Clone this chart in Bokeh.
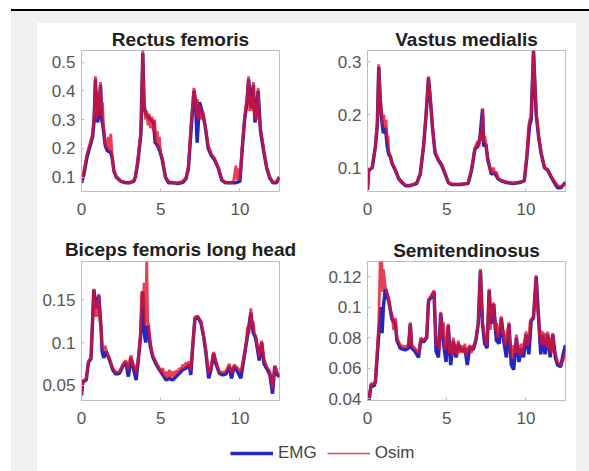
from bokeh.plotting import figure
from bokeh.models import FixedTicker, Legend, LegendItem, Spacer, Range1d
from bokeh.layouts import row, column
from bokeh.embed import file_html
from bokeh.resources import INLINE

# ---------------- data ----------------
TITLES = ["Rectus femoris", "Vastus medialis", "Biceps femoris long head", "Semitendinosus"]
X_TICKS = [0, 5, 10]
X_LIMITS = (0, 12.5)

# Rectus femoris
t_rf_emg = [0.0, 0.15, 0.35, 0.55, 0.7, 0.8, 0.88, 0.95, 1.02, 1.1,
            1.2, 1.28, 1.35, 1.5, 1.65, 1.8, 1.93, 2.05, 2.2, 2.5,
            2.8, 3.0, 3.3, 3.4, 3.55, 3.75, 3.87, 3.95, 4.05, 4.2,
            4.35, 4.55, 4.65, 4.8, 4.95, 5.1, 5.3, 5.5, 5.8, 6.1,
            6.4, 6.6, 6.75, 6.9, 7.1, 7.2, 7.3, 7.45, 7.65, 7.8,
            8.0, 8.2, 8.4, 8.65, 8.85, 9.1, 9.4, 9.7, 10.0, 10.15,
            10.3, 10.45, 10.55, 10.7, 10.85, 10.95, 11.05, 11.15, 11.3, 11.5,
            11.7, 11.9, 12.1, 12.3, 12.5]
rf_emg = [0.08, 0.11, 0.17, 0.21, 0.24, 0.30, 0.44, 0.33, 0.29, 0.33,
          0.42, 0.30, 0.28, 0.21, 0.19, 0.19, 0.17, 0.12, 0.10, 0.085,
          0.08, 0.08, 0.085, 0.10, 0.15, 0.25, 0.53, 0.35, 0.32, 0.31,
          0.30, 0.29, 0.22, 0.21, 0.19, 0.16, 0.10, 0.08, 0.08, 0.078,
          0.082, 0.095, 0.13, 0.25, 0.40, 0.36, 0.22, 0.36, 0.32, 0.28,
          0.20, 0.175, 0.16, 0.13, 0.09, 0.08, 0.08, 0.08, 0.085, 0.20,
          0.30, 0.36, 0.44, 0.34, 0.42, 0.29, 0.33, 0.40, 0.26, 0.19,
          0.13, 0.095, 0.08, 0.08, 0.10]
t_rf_osim = [0.0, 0.15, 0.35, 0.55, 0.7, 0.8, 0.88, 0.93, 0.98, 1.03,
             1.08, 1.13, 1.2, 1.26, 1.32, 1.4, 1.5, 1.6, 1.7, 1.75,
             1.85, 1.93, 2.05, 2.2, 2.5, 2.8, 3.0, 3.3, 3.4, 3.55,
             3.75, 3.87, 3.95, 4.05, 4.12, 4.2, 4.28, 4.35, 4.45, 4.55,
             4.62, 4.7, 4.78, 4.85, 4.92, 5.0, 5.1, 5.3, 5.5, 5.8,
             6.1, 6.4, 6.6, 6.75, 6.9, 7.1, 7.2, 7.27, 7.33, 7.4,
             7.47, 7.55, 7.65, 7.8, 8.0, 8.2, 8.4, 8.65, 8.85, 9.1,
             9.4, 9.6, 9.75, 9.82, 9.9, 10.0, 10.15, 10.3, 10.45, 10.55,
             10.62, 10.7, 10.78, 10.85, 10.92, 11.0, 11.08, 11.15, 11.22, 11.3,
             11.5, 11.7, 11.9, 12.1, 12.3, 12.5]
rf_osim = [0.085, 0.12, 0.18, 0.22, 0.25, 0.32, 0.45, 0.30, 0.40, 0.31,
           0.38, 0.33, 0.43, 0.31, 0.36, 0.27, 0.22, 0.20, 0.24, 0.19,
           0.25, 0.18, 0.12, 0.10, 0.085, 0.082, 0.08, 0.088, 0.10, 0.16,
           0.26, 0.54, 0.36, 0.30, 0.33, 0.28, 0.32, 0.27, 0.31, 0.26,
           0.30, 0.22, 0.26, 0.20, 0.24, 0.18, 0.17, 0.10, 0.085, 0.08,
           0.08, 0.085, 0.10, 0.14, 0.27, 0.41, 0.37, 0.31, 0.37, 0.30,
           0.35, 0.30, 0.33, 0.28, 0.21, 0.18, 0.165, 0.13, 0.09, 0.082,
           0.08, 0.085, 0.14, 0.09, 0.13, 0.09, 0.21, 0.31, 0.38, 0.45,
           0.33, 0.38, 0.33, 0.43, 0.30, 0.36, 0.30, 0.41, 0.31, 0.27,
           0.20, 0.13, 0.10, 0.08, 0.085, 0.10]

# Vastus medialis
t_vm_emg = [0.0, 0.08, 0.3, 0.5, 0.62, 0.71, 0.8, 0.9, 1.0, 1.13,
            1.25, 1.34, 1.45, 1.55, 1.76, 1.97, 2.18, 2.4, 2.7, 3.1,
            3.33, 3.54, 3.7, 3.85, 3.95, 4.12, 4.27, 4.48, 4.69, 4.9,
            5.1, 5.3, 5.85, 6.35, 6.57, 6.78, 6.95, 7.1, 7.26, 7.34,
            7.47, 7.6, 7.82, 8.03, 8.24, 8.45, 8.77, 9.18, 9.6, 9.9,
            10.06, 10.23, 10.33, 10.48, 10.65, 10.8, 10.96, 11.17, 11.38, 11.6,
            11.8, 12.0, 12.22, 12.43, 12.5]
vm_emg = [0.058, 0.095, 0.10, 0.14, 0.18, 0.29, 0.23, 0.19, 0.165, 0.175,
          0.14, 0.125, 0.12, 0.108, 0.095, 0.079, 0.072, 0.066, 0.066, 0.07,
          0.088, 0.14, 0.20, 0.27, 0.235, 0.17, 0.127, 0.114, 0.104, 0.088,
          0.072, 0.068, 0.068, 0.07, 0.095, 0.135, 0.14, 0.155, 0.21, 0.14,
          0.145, 0.114, 0.088, 0.09, 0.079, 0.075, 0.072, 0.07, 0.072, 0.075,
          0.12, 0.18, 0.19, 0.32, 0.20, 0.159, 0.127, 0.10, 0.095, 0.082,
          0.072, 0.062, 0.062, 0.07, 0.072]
t_vm_osim = [0.0, 0.08, 0.3, 0.5, 0.62, 0.71, 0.8, 0.9, 0.97, 1.03,
             1.1, 1.17, 1.25, 1.3, 1.34, 1.45, 1.55, 1.76, 1.97, 2.18,
             2.4, 2.7, 3.1, 3.33, 3.54, 3.7, 3.85, 3.95, 4.12, 4.27,
             4.48, 4.69, 4.9, 5.1, 5.3, 5.85, 6.35, 6.57, 6.78, 6.95,
             7.05, 7.12, 7.2, 7.26, 7.34, 7.4, 7.47, 7.6, 7.82, 7.95,
             8.03, 8.15, 8.24, 8.45, 8.77, 9.18, 9.6, 9.9, 10.06, 10.15,
             10.23, 10.33, 10.48, 10.65, 10.8, 10.96, 11.17, 11.3, 11.38, 11.6,
             11.8, 12.0, 12.22, 12.43, 12.5]
vm_osim = [0.06, 0.097, 0.102, 0.142, 0.185, 0.295, 0.235, 0.20, 0.18, 0.20,
           0.175, 0.19, 0.15, 0.16, 0.13, 0.122, 0.11, 0.097, 0.08, 0.073,
           0.067, 0.067, 0.071, 0.09, 0.142, 0.205, 0.272, 0.237, 0.172, 0.13,
           0.116, 0.106, 0.09, 0.073, 0.069, 0.069, 0.071, 0.097, 0.137, 0.15,
           0.14, 0.165, 0.15, 0.212, 0.15, 0.16, 0.145, 0.116, 0.09, 0.10,
           0.088, 0.092, 0.08, 0.076, 0.073, 0.071, 0.073, 0.076, 0.122, 0.17,
           0.19, 0.195, 0.322, 0.205, 0.16, 0.13, 0.102, 0.098, 0.097, 0.084,
           0.074, 0.066, 0.064, 0.07, 0.072]

# Biceps femoris long head
t_bf_emg = [0.0, 0.08, 0.3, 0.44, 0.6, 0.78, 0.92, 1.09, 1.24, 1.3,
            1.4, 1.55, 1.76, 1.97, 2.18, 2.4, 2.6, 2.8, 2.96, 3.13,
            3.3, 3.45, 3.6, 3.72, 3.87, 3.97, 4.05, 4.18, 4.35, 4.5,
            4.7, 4.92, 5.13, 5.34, 5.55, 5.76, 5.97, 6.18, 6.39, 6.6,
            6.8, 6.9, 7.02, 7.16, 7.33, 7.54, 7.71, 7.86, 8.03, 8.17,
            8.34, 8.49, 8.7, 8.9, 9.12, 9.33, 9.47, 9.64, 9.85, 10.06,
            10.27, 10.48, 10.69, 10.84, 11.0, 11.22, 11.37, 11.53, 11.74, 11.9,
            12.06, 12.2, 12.37, 12.5]
bf_emg = [0.038, 0.054, 0.056, 0.077, 0.081, 0.162, 0.14, 0.155, 0.115, 0.09,
          0.082, 0.09, 0.08, 0.068, 0.063, 0.064, 0.072, 0.077, 0.060, 0.082,
          0.068, 0.056, 0.082, 0.105, 0.16, 0.11, 0.10, 0.12, 0.095, 0.083,
          0.075, 0.068, 0.062, 0.056, 0.058, 0.056, 0.06, 0.064, 0.068, 0.07,
          0.074, 0.062, 0.095, 0.128, 0.13, 0.123, 0.107, 0.087, 0.058, 0.068,
          0.087, 0.075, 0.064, 0.062, 0.063, 0.072, 0.058, 0.072, 0.066, 0.058,
          0.083, 0.108, 0.135, 0.112, 0.105, 0.079, 0.10, 0.075, 0.068, 0.062,
          0.040, 0.072, 0.062, 0.06]
t_bf_osim = [0.0, 0.08, 0.3, 0.44, 0.6, 0.78, 0.85, 0.92, 1.0, 1.09,
             1.16, 1.24, 1.3, 1.4, 1.5, 1.55, 1.76, 1.97, 2.18, 2.4,
             2.6, 2.8, 2.96, 3.05, 3.13, 3.25, 3.3, 3.45, 3.6, 3.72,
             3.8, 3.87, 3.95, 4.02, 4.08, 4.12, 4.18, 4.25, 4.35, 4.5,
             4.7, 4.92, 5.05, 5.13, 5.25, 5.34, 5.45, 5.55, 5.65, 5.76,
             5.85, 5.97, 6.1, 6.18, 6.3, 6.39, 6.5, 6.6, 6.7, 6.8,
             6.9, 7.02, 7.16, 7.33, 7.54, 7.71, 7.86, 8.03, 8.17, 8.34,
             8.49, 8.7, 8.9, 9.12, 9.33, 9.47, 9.64, 9.85, 10.06, 10.27,
             10.4, 10.48, 10.58, 10.69, 10.77, 10.84, 10.92, 11.0, 11.22, 11.37,
             11.53, 11.74, 11.9, 12.06, 12.2, 12.37, 12.5]
bf_osim = [0.04, 0.055, 0.058, 0.078, 0.083, 0.163, 0.13, 0.15, 0.13, 0.157,
           0.125, 0.118, 0.095, 0.092, 0.096, 0.091, 0.082, 0.07, 0.065, 0.066,
           0.074, 0.079, 0.068, 0.08, 0.085, 0.072, 0.075, 0.064, 0.084, 0.11,
           0.16, 0.14, 0.17, 0.12, 0.16, 0.195, 0.125, 0.12, 0.10, 0.085,
           0.077, 0.07, 0.065, 0.07, 0.06, 0.066, 0.058, 0.068, 0.06, 0.066,
           0.06, 0.067, 0.064, 0.07, 0.068, 0.074, 0.07, 0.077, 0.072, 0.078,
           0.068, 0.097, 0.13, 0.131, 0.125, 0.109, 0.09, 0.064, 0.07, 0.089,
           0.078, 0.066, 0.065, 0.066, 0.075, 0.064, 0.074, 0.07, 0.066, 0.086,
           0.10, 0.118, 0.11, 0.14, 0.12, 0.125, 0.11, 0.108, 0.083, 0.102,
           0.08, 0.07, 0.066, 0.046, 0.073, 0.064, 0.062]

# Semitendinosus
t_st_emg = [0.0, 0.08, 0.23, 0.4, 0.5, 0.71, 0.85, 0.92, 1.0, 1.13,
            1.34, 1.55, 1.76, 1.86, 2.07, 2.38, 2.59, 2.7, 2.8, 3.0,
            3.22, 3.37, 3.54, 3.74, 3.85, 4.05, 4.2, 4.33, 4.48, 4.62,
            4.8, 4.96, 5.1, 5.25, 5.42, 5.59, 5.73, 5.94, 6.15, 6.3,
            6.46, 6.67, 6.84, 6.99, 7.13, 7.26, 7.4, 7.55, 7.68, 7.82,
            7.97, 8.14, 8.31, 8.45, 8.6, 8.77, 8.93, 9.08, 9.23, 9.4,
            9.56, 9.7, 9.85, 10.02, 10.19, 10.33, 10.48, 10.65, 10.8, 10.94,
            11.07, 11.21, 11.38, 11.53, 11.7, 11.86, 12.0, 12.2, 12.35, 12.5]
st_emg = [0.042, 0.038, 0.049, 0.048, 0.051, 0.082, 0.10, 0.083, 0.10, 0.112,
          0.104, 0.092, 0.089, 0.078, 0.073, 0.072, 0.073, 0.089, 0.073, 0.071,
          0.067, 0.079, 0.077, 0.08, 0.104, 0.107, 0.11, 0.071, 0.067, 0.096,
          0.076, 0.064, 0.088, 0.062, 0.078, 0.067, 0.076, 0.071, 0.073, 0.062,
          0.074, 0.072, 0.078, 0.089, 0.124, 0.089, 0.076, 0.073, 0.111, 0.089,
          0.102, 0.078, 0.076, 0.093, 0.078, 0.067, 0.089, 0.062, 0.059, 0.08,
          0.064, 0.073, 0.067, 0.082, 0.069, 0.091, 0.093, 0.12, 0.093, 0.069,
          0.082, 0.069, 0.082, 0.067, 0.082, 0.067, 0.062, 0.061, 0.069, 0.075]
t_st_osim = [0.0, 0.08, 0.23, 0.4, 0.5, 0.71, 0.8, 0.85, 0.9, 0.95,
             1.0, 1.13, 1.34, 1.45, 1.55, 1.65, 1.76, 1.86, 2.07, 2.38,
             2.59, 2.7, 2.8, 3.0, 3.22, 3.37, 3.54, 3.74, 3.85, 4.05,
             4.2, 4.33, 4.48, 4.55, 4.62, 4.72, 4.8, 4.88, 4.96, 5.1,
             5.18, 5.25, 5.35, 5.42, 5.5, 5.59, 5.66, 5.73, 5.85, 5.94,
             6.05, 6.15, 6.22, 6.3, 6.46, 6.57, 6.67, 6.84, 6.99, 7.13,
             7.26, 7.4, 7.55, 7.68, 7.75, 7.82, 7.97, 8.05, 8.14, 8.22,
             8.31, 8.45, 8.52, 8.6, 8.68, 8.77, 8.93, 9.0, 9.08, 9.15,
             9.23, 9.32, 9.4, 9.48, 9.56, 9.63, 9.7, 9.78, 9.85, 10.02,
             10.1, 10.19, 10.26, 10.33, 10.48, 10.65, 10.72, 10.8, 10.87, 10.94,
             11.0, 11.07, 11.14, 11.21, 11.3, 11.38, 11.45, 11.53, 11.6, 11.7,
             11.78, 11.86, 12.0, 12.2, 12.35, 12.5]
st_osim = [0.043, 0.039, 0.05, 0.049, 0.052, 0.09, 0.13, 0.115, 0.13, 0.11,
           0.125, 0.113, 0.106, 0.098, 0.095, 0.085, 0.093, 0.08, 0.075, 0.074,
           0.075, 0.09, 0.075, 0.073, 0.07, 0.08, 0.078, 0.081, 0.105, 0.108,
           0.111, 0.075, 0.08, 0.072, 0.097, 0.08, 0.09, 0.072, 0.075, 0.089,
           0.07, 0.076, 0.068, 0.08, 0.07, 0.074, 0.068, 0.078, 0.07, 0.075,
           0.07, 0.076, 0.068, 0.072, 0.075, 0.07, 0.074, 0.079, 0.09, 0.125,
           0.09, 0.08, 0.075, 0.112, 0.085, 0.095, 0.103, 0.085, 0.09, 0.08,
           0.085, 0.094, 0.082, 0.085, 0.075, 0.08, 0.09, 0.075, 0.072, 0.066,
           0.075, 0.07, 0.082, 0.07, 0.075, 0.068, 0.076, 0.07, 0.075, 0.084,
           0.075, 0.078, 0.09, 0.092, 0.094, 0.121, 0.10, 0.094, 0.08, 0.085,
           0.075, 0.084, 0.075, 0.083, 0.074, 0.084, 0.072, 0.08, 0.07, 0.083,
           0.072, 0.07, 0.064, 0.062, 0.065, 0.07]

Y_LIMITS = [(0.05, 0.54), (0.055, 0.321), (0.032, 0.195), (0.0387, 0.13)]
Y_TICKS = [[0.1, 0.2, 0.3, 0.4, 0.5], [0.1, 0.2, 0.3], [0.05, 0.1, 0.15],
           [0.04, 0.06, 0.08, 0.1, 0.12]]
Y_LABELS = [["0.1", "0.2", "0.3", "0.4", "0.5"], ["0.1", "0.2", "0.3"],
            ["0.05", "0.1", "0.15"], ["0.04", "0.06", "0.08", "0.1", "0.12"]]
SERIES = [(t_rf_emg, rf_emg, t_rf_osim, rf_osim),
          (t_vm_emg, vm_emg, t_vm_osim, vm_osim),
          (t_bf_emg, bf_emg, t_bf_osim, bf_osim),
          (t_st_emg, st_emg, t_st_osim, st_osim)]
LEGEND_LABELS = ["EMG", "Osim"]

# ---------------- style ----------------
FONT = "Liberation Sans"
EMG_COLOR = "#2525c0"
OSIM_COLOR = "#e0102a"
FRAME = "#bdbdbd"
TICK_TEXT = "#555555"
GRAY_BG = "#f0f0f0"


def panel(i, width, height, bl, br, bt, bb, title_standoff):
    te, ve, to, vo = SERIES[i]
    p = figure(width=width, height=height, x_range=Range1d(*X_LIMITS),
               y_range=Range1d(*Y_LIMITS[i]), output_backend="svg",
               toolbar_location=None, min_border_left=bl, min_border_right=br,
               min_border_top=bt, min_border_bottom=bb,
               background_fill_color="white", border_fill_color="white",
               outline_line_color=FRAME, outline_line_width=1)
    p.line(te, ve, color=EMG_COLOR, line_width=3.5)
    p.line(to, vo, color=OSIM_COLOR, line_width=2.8, line_alpha=0.8)
    p.title.text = TITLES[i]
    p.title.align = "center"
    p.title.text_font = FONT
    p.title.text_font_size = "19px"
    p.title.text_font_style = "bold"
    p.title.text_color = "#202020"
    p.title.standoff = title_standoff
    p.xgrid.visible = False
    p.ygrid.visible = False
    p.xaxis.ticker = FixedTicker(ticks=X_TICKS)
    p.yaxis.ticker = FixedTicker(ticks=Y_TICKS[i])
    p.yaxis.major_label_overrides = {k: v for k, v in zip(Y_TICKS[i], Y_LABELS[i])}
    for ax in (p.xaxis[0], p.yaxis[0]):
        ax.axis_line_color = FRAME
        ax.major_tick_line_color = FRAME
        ax.major_tick_in = 3
        ax.major_tick_out = 0
        ax.minor_tick_line_color = None
        ax.major_label_text_font = FONT
        ax.major_label_text_font_size = "17px"
        ax.major_label_text_color = TICK_TEXT
    p.xaxis.major_label_standoff = 11
    p.yaxis.major_label_standoff = 6
    return p


p1 = panel(0, 286, 211, 44, 44, 27, 43, 1)
p2 = panel(1, 253, 211, 44, 11, 27, 43, 1)
p3 = panel(2, 286, 199, 44, 44, 27, 33, 4)
p4 = panel(3, 253, 199, 44, 11, 27, 33, 2)

# legend panel: its sample lines are kept outside the visible x range
leg = figure(width=539, height=38, output_backend="svg", toolbar_location=None,
             x_range=Range1d(-20, -19), y_range=Range1d(0, 1), min_border=0,
             outline_line_color=None, border_fill_color="white",
             background_fill_color="white")
leg.axis.visible = False
leg.grid.visible = False
r_e = leg.line(t_rf_emg, rf_emg, color=EMG_COLOR, line_width=3.5)
r_o = leg.line(t_rf_osim, rf_osim, color=OSIM_COLOR, line_width=1.5, line_alpha=0.8)
legend = Legend(items=[LegendItem(label=LEGEND_LABELS[0], renderers=[r_e]),
                       LegendItem(label=LEGEND_LABELS[1], renderers=[r_o])],
                orientation="horizontal", location=(193, 8),
                glyph_width=43, glyph_height=20, label_standoff=5, spacing=10,
                padding=0, margin=0, border_line_color=None,
                background_fill_alpha=0, label_text_font=FONT,
                label_text_font_size="17px", label_text_color="#444444")
leg.add_layout(legend)

content = column(row(p1, p2), row(p3, p4), leg)

root = column(
    Spacer(width=589, height=9),
    row(Spacer(width=11, height=2), Spacer(width=578, height=2, styles={"background-color": "black"})),
    row(Spacer(width=11, height=460),
        column(Spacer(width=578, height=12, styles={"background-color": GRAY_BG}),
               row(Spacer(width=26, height=448, styles={"background-color": GRAY_BG}),
                   content,
                   Spacer(width=13, height=448, styles={"background-color": GRAY_BG})))),
)

open("out.html", "w").write(file_html(root, INLINE))
